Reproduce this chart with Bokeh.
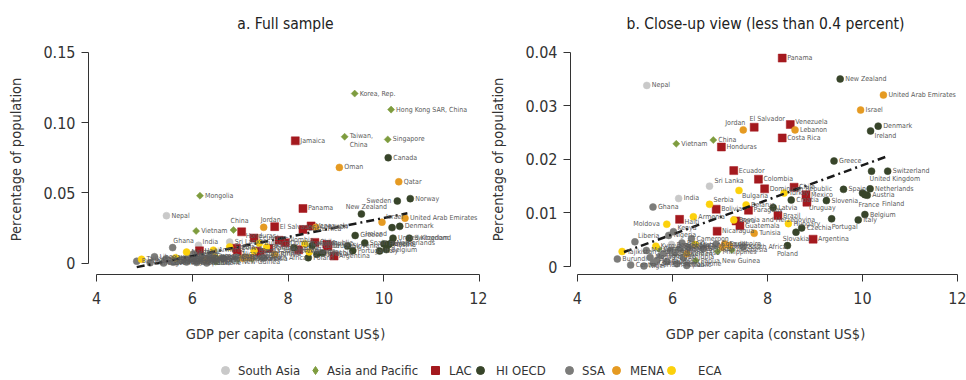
import math
from bokeh.plotting import figure
from bokeh.models import (ColumnDataSource, FixedTicker, Legend, LegendItem,
                          CustomJSTickFormatter, Title)
from bokeh.layouts import row, column
from bokeh.embed import file_html
from bokeh.resources import INLINE
from bokeh.core.properties import value

FONT = "DejaVu Sans Condensed, Roboto, sans-serif"

# ---------------- data (x = log GDP per capita, y = percentage of population)
sa_names = ["Nepal", "India", "Sri Lanka", "Bangladesh", "Pakistan"]
sa_x = [5.46, 6.13, 6.78, 5.98, 6.30]
sa_y = [0.0338, 0.0127, 0.0150, 0.0041, 0.0034]

ap_names = ["Korea, Rep.", "Hong Kong SAR, China", "Taiwan, China", "Singapore",
            "Mongolia", "Vietnam", "China", "Papua New Guinea", "Philippines",
            "Cambodia", "Indonesia"]
ap_x = [9.39, 10.15, 9.18, 10.08, 6.16, 6.08, 6.86, 6.49, 6.95, 5.71, 7.25]
ap_y = [0.1206, 0.1092, 0.0899, 0.0880, 0.0480, 0.0229, 0.0236, 0.0011, 0.0028,
        0.0033, 0.0031]

lac_names = ["Jamaica", "Panama", "El Salvador", "Venezuela", "Costa Rica",
             "Honduras", "Ecuador", "Colombia", "Dominican Republic", "Chile",
             "Mexico", "Uruguay", "Bolivia", "Haiti", "Peru", "Guatemala",
             "Nicaragua", "Paraguay", "Brazil", "Argentina"]
lac_x = [8.15, 8.31, 7.72, 8.48, 8.31, 7.03, 7.29, 7.81, 7.94, 8.56,
         8.81, 8.83, 6.92, 6.15, 7.34, 7.42, 6.94, 7.60, 8.22, 8.96]
lac_y = [0.0870, 0.0389, 0.0260, 0.0265, 0.0240, 0.0223, 0.0179, 0.0163, 0.0145,
         0.0148, 0.0134, 0.0120, 0.0107, 0.0088, 0.0085, 0.0076, 0.0066, 0.0105,
         0.0095, 0.0051]

oecd_names = ["Canada", "Norway", "Sweden", "New Zealand", "Denmark", "Ireland",
              "Greece", "Switzerland", "United Kingdom", "Spain", "Netherlands",
              "Austria", "France", "Finland", "Slovenia", "Belgium", "Italy",
              "Portugal", "Czechia", "Slovakia", "Poland", "Croatia", "Latvia"]
oecd_x = [10.09, 10.55, 10.28, 9.53, 10.33, 10.17, 9.40, 10.53, 10.19, 9.60,
          10.16, 10.10, 10.00, 10.05, 9.24, 10.05, 9.91, 9.35, 8.72, 8.60, 8.42,
          8.50, 8.12]
oecd_y = [0.0750, 0.0459, 0.0442, 0.0350, 0.0262, 0.0253, 0.0197, 0.0178, 0.0178,
          0.0144, 0.0145, 0.0133, 0.0137, 0.0134, 0.0123, 0.0097, 0.0087, 0.0089,
          0.0072, 0.0064, 0.0039, 0.0124, 0.0110]

ssa_names = ["Ghana", "Kenya", "Nigeria", "Liberia", "Burundi",
             "Central African Republic", "Niger", "Malawi", "Mozambique",
             "Madagascar", "Uganda", "Rwanda", "Tanzania", "Ethiopia", "Zambia",
             "Cameroon", "Senegal", "Côte d'Ivoire", "Sierra Leone", "Mali",
             "Burkina Faso", "Togo", "Guinea", "South Africa", "Chad", "Benin"]
ssa_x = [5.59, 6.02, 5.92, 5.21, 4.84, 5.12, 5.40, 5.45, 5.53, 5.67, 5.81, 5.95,
         6.16, 6.23, 6.33, 6.40, 6.65, 6.92, 6.09, 6.30, 6.05, 5.75, 5.88, 7.49,
         5.60, 6.20]
ssa_y = [0.0111, 0.0065, 0.0058, 0.0046, 0.0014, 0.0003, 0.0001, 0.0030, 0.0017,
         0.0011, 0.0024, 0.0030, 0.0033, 0.0017, 0.0036, 0.0052, 0.0033, 0.0042,
         0.0005, 0.0002, 0.0026, 0.0020, 0.0009, 0.0037, 0.0007, 0.0044]

mena_names = ["Oman", "Qatar", "United Arab Emirates", "Israel", "Jordan",
              "Lebanon", "Tunisia", "Egypt", "Morocco", "Iran", "Yemen"]
mena_x = [9.07, 10.31, 10.44, 9.96, 7.49, 8.58, 7.72, 7.10, 7.20, 7.05, 6.30]
mena_y = [0.0681, 0.0579, 0.0320, 0.0292, 0.0255, 0.0255, 0.0062, 0.0042, 0.0039,
          0.0036, 0.0024]

eca_names = ["Tajikistan", "Kyrgyz Republic", "Moldova", "Armenia", "Serbia",
             "Bulgaria", "Ukraine", "Bosnia and Herzegovina", "Belarus", "Turkey",
             "Hungary"]
eca_x = [4.94, 5.65, 5.88, 6.44, 6.78, 7.40, 6.48, 7.29, 7.55, 8.35, 8.44]
eca_y = [0.0028, 0.0038, 0.0079, 0.0093, 0.0116, 0.0142, 0.0041, 0.0087, 0.0115,
         0.0137, 0.0080]

trend_full_x = [4.84, 10.49]
trend_full_y = [-0.0028, 0.0355]
trend_close_x = [4.98, 10.53]
trend_close_y = [0.0027, 0.0206]

x_ticks = [4, 6, 8, 10, 12]
y_ticks_full = [0, 0.05, 0.10, 0.15]
y_ticks_close = [0, 0.01, 0.02, 0.03, 0.04]
close_limit = 0.04

# ---------------- styles
regions = [
    ("South Asia", sa_names, sa_x, sa_y),
    ("Asia and Pacific", ap_names, ap_x, ap_y),
    ("LAC", lac_names, lac_x, lac_y),
    ("HI OECD", oecd_names, oecd_x, oecd_y),
    ("SSA", ssa_names, ssa_x, ssa_y),
    ("MENA", mena_names, mena_x, mena_y),
    ("ECA", eca_names, eca_x, eca_y),
]
STYLE = {
    "South Asia": dict(marker="circle", color="#c9c9c9", size=7, angle=0.0, lmarker="circle"),
    "Asia and Pacific": dict(marker="square", color="#7e9c3e", size=5, angle=math.pi / 4,
                             lmarker="diamond"),
    "LAC": dict(marker="square", color="#a4191e", size=8, angle=0.0, lmarker="square"),
    "HI OECD": dict(marker="circle", color="#38452a", size=7, angle=0.0, lmarker="circle"),
    "SSA": dict(marker="circle", color="#7c7c7a", size=7, angle=0.0, lmarker="circle"),
    "MENA": dict(marker="circle", color="#e59a22", size=7, angle=0.0, lmarker="circle"),
    "ECA": dict(marker="circle", color="#fcd10c", size=7, angle=0.0, lmarker="circle"),
}
# legend layout: marker centre (px from left) and gap to label
LEGEND_POS = {"South Asia": (225, 3), "Asia and Pacific": (315, 2), "LAC": (435, 4),
              "HI OECD": (480, 6), "SSA": (569, 3), "MENA": (616, 4), "ECA": (671, 17)}

# label placement: (dx, dy_up, align, baseline)
left_place = {
    "Taiwan, China": (5, 5, "left", "top"),
    "Sweden": (-6, 0, "right", "middle"),
    "New Zealand": (5, 3, "center", "bottom"),
    "Israel": (4, 5, "left", "middle"),
    "Ireland": (-5, -6, "right", "middle"),
    "Jordan": (7, 3, "center", "bottom"),
    "China": (6, 5, "center", "bottom"),
    "Honduras": (4, -4, "left", "middle"),
    "Ghana": (11, 3, "center", "bottom"),
    "India": (4, 3, "left", "middle"),
}
right_place = {
    "Jordan": (-8, 3, "center", "bottom"),
    "El Salvador": (13, 4, "center", "bottom"),
    "Venezuela": (5, 3, "left", "middle"),
    "Ireland": (4, -5, "left", "middle"),
    "Sri Lanka": (5, 5, "left", "middle"),
    "Serbia": (4, 4, "left", "middle"),
    "Bulgaria": (3, -6, "left", "middle"),
    "Haiti": (5, -3, "left", "middle"),
    "Moldova": (-7, 0, "right", "middle"),
    "Liberia": (3, 6, "left", "middle"),
    "Kenya": (4, 4, "left", "middle"),
    "United Kingdom": (-2, -8, "left", "middle"),
    "France": (-4, -12, "left", "middle"),
    "Finland": (17, -9, "left", "middle"),
    "Portugal": (0, -8, "left", "middle"),
    "Slovakia": (0, -3, "center", "top"),
    "Poland": (0, -4, "center", "top"),
    "Uruguay": (2, -6, "left", "middle"),
}
display_full = {"Taiwan, China": "Taiwan,\nChina"}

Y_SIGN = -1  # bokeh text y_offset: positive moves down


def style_fig(p, yticks, ndec):
    p.xaxis.ticker = FixedTicker(ticks=x_ticks)
    p.xaxis.bounds = (x_ticks[0], x_ticks[-1])
    p.yaxis.ticker = FixedTicker(ticks=yticks)
    p.yaxis.bounds = (yticks[0], yticks[-1])
    p.yaxis.formatter = CustomJSTickFormatter(
        code="return tick == 0 ? '0' : tick.toFixed(%d);" % ndec)
    for ax in [p.xaxis[0], p.yaxis[0]]:
        ax.axis_line_color = "#333333"
        ax.major_tick_line_color = "#333333"
        ax.major_tick_out = 7
        ax.major_tick_in = 0
        ax.minor_tick_line_color = None
        ax.major_label_text_font = FONT
        ax.major_label_text_font_size = "16px"
        ax.major_label_text_color = "#333333"
        ax.axis_label_text_font = FONT
        ax.axis_label_text_font_size = "14.5px"
        ax.axis_label_text_font_style = "normal"
        ax.axis_label_text_color = "#333333"
    p.xaxis.major_label_standoff = 10
    p.yaxis.major_label_standoff = 6
    p.xaxis.axis_label = "GDP per capita (constant US$)"
    p.yaxis.axis_label = "Percentage of population"
    p.xaxis.axis_label_standoff = 19
    p.yaxis.axis_label_standoff = 16
    p.yaxis.major_label_orientation = "horizontal"
    p.xgrid.visible = False
    p.ygrid.visible = False
    p.outline_line_color = None
    p.title.align = "center"
    p.title.text_font = FONT
    p.title.text_font_size = "15.5px"
    p.title.text_font_style = "normal"
    p.title.text_color = "#222222"
    # thin spacer between the frame and the title, lifting the title a little
    p.add_layout(Title(text=" ", text_font_size="4px", standoff=0), "above")


def draw_panel(p, limit, place, display, tx, ty):
    lab = dict(x=[], y=[], t=[], dx=[], dy=[], al=[], bl=[])
    for name, names, xs, ys in regions:
        st = STYLE[name]
        keep = [limit is None or y < limit for y in ys]
        sx = [x for x, k in zip(xs, keep) if k]
        sy = [y for y, k in zip(ys, keep) if k]
        sn = [n for n, k in zip(names, keep) if k]
        p.scatter(x=sx, y=sy, marker=st["marker"], size=st["size"],
                  angle=st["angle"], fill_color=st["color"],
                  line_color=st["color"], line_width=0.5)
        for n, x, y in zip(sn, sx, sy):
            dx, dy, al, bl = place.get(n, (5, 0, "left", "middle"))
            lab["x"].append(x)
            lab["y"].append(y)
            lab["t"].append(display.get(n, n))
            lab["dx"].append(dx)
            lab["dy"].append(Y_SIGN * dy)
            lab["al"].append(al)
            lab["bl"].append(bl)
    tsrc = ColumnDataSource(dict(x=list(tx), y=list(ty)))
    p.line(x="x", y="y", source=tsrc, line_color="#1a1a1a", line_width=2.5,
           line_dash="8 4 2 4")
    src = ColumnDataSource(lab)
    p.text(x="x", y="y", text="t", x_offset="dx", y_offset="dy",
           text_align="al", text_baseline="bl", source=src,
           text_font=value(FONT), text_font_size="7px", text_color="#5a5a5a",
           text_line_height=1.15)


# ---------------- left panel
p1 = figure(width=487, height=356, output_backend="svg", toolbar_location=None,
            x_range=(3.833, 12.058), y_range=(-0.00803, 0.1555),
            min_border_left=88, min_border_right=5, min_border_top=44,
            min_border_bottom=82, title="a. Full sample")
style_fig(p1, y_ticks_full, 2)
draw_panel(p1, None, left_place, display_full, trend_full_x, trend_full_y)

# ---------------- right panel
p2 = figure(width=479, height=356, output_backend="svg", toolbar_location=None,
            x_range=(3.854, 12.0623), y_range=(-0.001493, 0.041437),
            min_border_left=79, min_border_right=6, min_border_top=44,
            min_border_bottom=82, title="b. Close-up view (less than 0.4 percent)")
style_fig(p2, y_ticks_close, 2)
draw_panel(p2, close_limit, right_place, {}, trend_close_x, trend_close_y)

# ---------------- legend strip (renderers hold real data, kept outside the view)
leg = figure(width=966, height=24, output_backend="svg", toolbar_location=None,
             x_range=(0, 1), y_range=(0, 1), min_border=0,
             x_axis_type=None, y_axis_type=None)
leg.outline_line_color = None
leg.xgrid.visible = False
leg.ygrid.visible = False
for name, _, xs, ys in regions:
    st = STYLE[name]
    r = leg.scatter(x=xs, y=ys, marker=st["lmarker"],
                    fill_color=st["color"], line_color=st["color"])
    mc, gap = LEGEND_POS[name]
    lg = Legend(items=[LegendItem(label=name, renderers=[r])],
                orientation="horizontal", location=(mc - 10, 0),
                glyph_width=20, glyph_height=20, label_standoff=gap, spacing=0,
                padding=0, margin=0, border_line_color=None,
                background_fill_alpha=0, label_text_font=FONT,
                label_text_font_size="13px", label_text_color="#333333",
                label_height=20)
    leg.add_layout(lg, "center")

layout = column(row(p1, p2), leg)
open("out.html", "w").write(file_html(layout, INLINE))
